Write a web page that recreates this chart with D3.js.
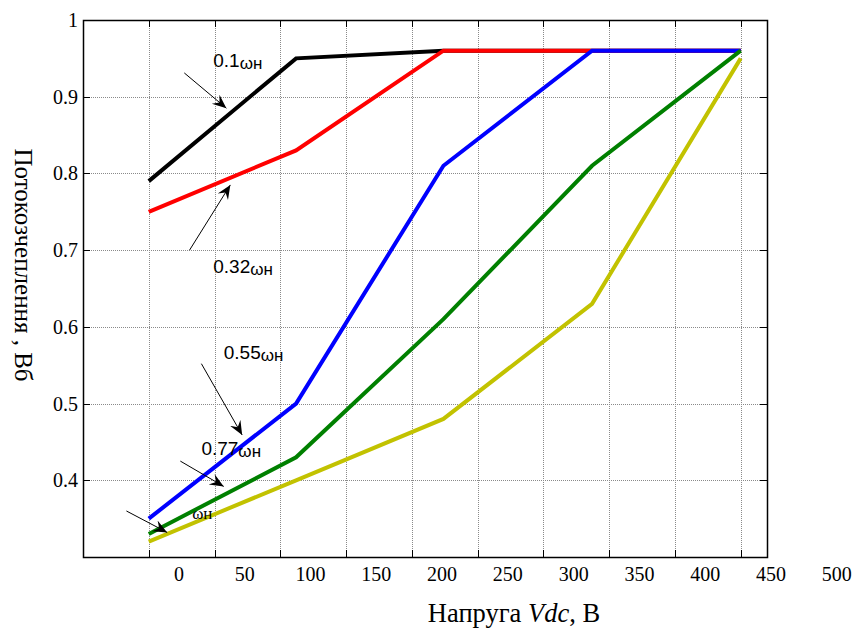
<!DOCTYPE html>
<html>
<head>
<meta charset="utf-8">
<script src="https://cdn.jsdelivr.net/npm/d3@7"></script>
<style>
  body { margin: 0; background: #fff; }
  svg { display: block; }
  .serif { font-family: "Liberation Serif", "Times New Roman", serif; }
  .sans { font-family: "Liberation Sans", Arial, sans-serif; }
</style>
</head>
<body>
<svg id="chart" width="854" height="628"></svg>
<script>
// voltage points (x) and flux linkage for each speed
const vdc = [-23, 89, 201, 314, 427];
const flux01 = [0.79, 0.95, 0.96, 0.96, 0.96];
const flux032 = [0.75, 0.83, 0.96, 0.96, 0.96];
const flux055 = [0.35, 0.50, 0.81, 0.96, 0.96];
const flux077 = [0.33, 0.43, 0.61, 0.81, 0.96];
const flux1 = [0.32, 0.40, 0.48, 0.63, 0.95];

const xTickLabels = [0, 50, 100, 150, 200, 250, 300, 350, 400, 450, 500];
const xGrid = [-23, 27, 77, 127, 177, 227, 277, 327, 377, 427];
const yTicks = [0.4, 0.5, 0.6, 0.7, 0.8, 0.9, 1];

const series = [
    { values: flux01, color: "#000000" },
    { values: flux032, color: "#ff0000" },
    { values: flux055, color: "#0000ff" },
    { values: flux077, color: "#008000" },
    { values: flux1, color: "#c2c200" }
];

// annotations: label text and arrow in data units
const notes = [
    { main: "0.1", sub: "ωн", at: [26, 0.939], from: [4, 0.931], to: [36, 0.885] },
    { main: "0.32", sub: "ωн", at: [26, 0.670], from: [8, 0.700], to: [39, 0.785] },
    { main: "0.55", sub: "ωн", at: [34, 0.558], from: [17, 0.552], to: [48, 0.459] },
    { main: "0.77", sub: "ωн", at: [17, 0.433], from: [1, 0.425], to: [34, 0.392] },
    { main: "", sub: "ωн", at: [10, 0.349], from: [-40, 0.360], to: [-9, 0.332] }
];

const svg = d3.select("#chart");
const mLeft = 83, mRight = 767, mTop = 20, mBottom = 557;

const x = d3.scaleLinear().domain([-73, 447]).range([mLeft, mRight]);
const y = d3.scaleLinear().domain([0.3, 1]).range([mBottom, mTop]);

// grid
const grid = svg.append("g")
    .attr("stroke", "#8a8a8a")
    .attr("stroke-width", 1)
    .attr("stroke-dasharray", "1,1");

grid.selectAll("line.vx")
    .data(xGrid)
    .enter()
    .append("line")
    .attr("x1", d => Math.round(x(d)) + 0.5)
    .attr("x2", d => Math.round(x(d)) + 0.5)
    .attr("y1", mTop)
    .attr("y2", mBottom);

grid.selectAll("line.hy")
    .data(yTicks.filter(d => d < 1))
    .enter()
    .append("line")
    .attr("x1", mLeft)
    .attr("x2", mRight)
    .attr("y1", d => Math.round(y(d)) + 0.5)
    .attr("y2", d => Math.round(y(d)) + 0.5);

// inward tick marks on all sides
const ticks = svg.append("g").attr("stroke", "#000").attr("stroke-width", 1);
xGrid.forEach(d => {
    const px = Math.round(x(d)) + 0.5;
    ticks.append("line").attr("x1", px).attr("x2", px).attr("y1", mBottom).attr("y2", mBottom - 7);
    ticks.append("line").attr("x1", px).attr("x2", px).attr("y1", mTop).attr("y2", mTop + 7);
});
yTicks.filter(d => d < 1).forEach(d => {
    const py = Math.round(y(d)) + 0.5;
    ticks.append("line").attr("x1", mLeft).attr("x2", mLeft + 7).attr("y1", py).attr("y2", py);
    ticks.append("line").attr("x1", mRight).attr("x2", mRight - 7).attr("y1", py).attr("y2", py);
});

// frame
svg.append("rect")
    .attr("x", mLeft + 0.5)
    .attr("y", mTop + 0.5)
    .attr("width", mRight - mLeft)
    .attr("height", mBottom - mTop)
    .attr("fill", "none")
    .attr("stroke", "#000")
    .attr("stroke-width", 1.5);

// tick labels
svg.append("g")
    .selectAll("text")
    .data(xTickLabels)
    .enter()
    .append("text")
    .attr("class", "serif")
    .attr("x", d => x(d))
    .attr("y", 581)
    .attr("text-anchor", "middle")
    .attr("font-size", 20)
    .text(d => d);

svg.append("g")
    .selectAll("text")
    .data(yTicks)
    .enter()
    .append("text")
    .attr("class", "serif")
    .attr("x", 78)
    .attr("y", d => y(d))
    .attr("dy", "0.35em")
    .attr("text-anchor", "end")
    .attr("font-size", 20)
    .text(d => d === 1 ? "1" : d.toFixed(1));

// curves
const line = d3.line()
    .x((d, i) => x(vdc[i]))
    .y(d => y(d));

svg.append("g")
    .selectAll("path")
    .data(series)
    .enter()
    .append("path")
    .attr("d", d => line(d.values))
    .attr("fill", "none")
    .attr("stroke", d => d.color)
    .attr("stroke-width", 4)
    .attr("stroke-linejoin", "miter");

// arrows
svg.append("defs").append("marker")
    .attr("id", "head")
    .attr("viewBox", "-14 -7 16 14")
    .attr("refX", 0)
    .attr("refY", 0)
    .attr("markerWidth", 16)
    .attr("markerHeight", 14)
    .attr("markerUnits", "userSpaceOnUse")
    .attr("orient", "auto")
    .append("path")
    .attr("d", "M0,0 L-14,-6 L-9,0 L-14,6 Z")
    .attr("fill", "#000");

svg.append("g")
    .selectAll("line")
    .data(notes)
    .enter()
    .append("line")
    .attr("x1", d => x(d.from[0]))
    .attr("y1", d => y(d.from[1]))
    .attr("x2", d => x(d.to[0]))
    .attr("y2", d => y(d.to[1]))
    .attr("stroke", "#000")
    .attr("stroke-width", 1)
    .attr("marker-end", "url(#head)");

// speed labels
const lbl = svg.append("g")
    .selectAll("text")
    .data(notes)
    .enter()
    .append("text")
    .attr("x", d => x(d.at[0]))
    .attr("y", d => y(d.at[1]))
    .attr("fill", "#000");

lbl.append("tspan")
    .attr("class", "sans")
    .attr("font-size", 19)
    .text(d => d.main);

lbl.append("tspan")
    .attr("class", d => d.main ? "sans" : "serif")
    .attr("font-size", 17)
    .attr("dy", d => d.main ? 2 : 0)
    .text(d => d.sub);

// axis titles
svg.append("text")
    .attr("class", "serif")
    .attr("x", 514)
    .attr("y", 622)
    .attr("text-anchor", "middle")
    .attr("font-size", 26.5)
    .call(t => {
        t.append("tspan").text("Напруга ");
        t.append("tspan").attr("font-style", "italic").text("Vdc");
        t.append("tspan").text(", В");
    });

svg.append("text")
    .attr("class", "serif")
    .attr("transform", "translate(15,265) rotate(90)")
    .attr("text-anchor", "middle")
    .attr("font-size", 25)
    .text("Потокозчеплення , Вб");
</script>
</body>
</html>
